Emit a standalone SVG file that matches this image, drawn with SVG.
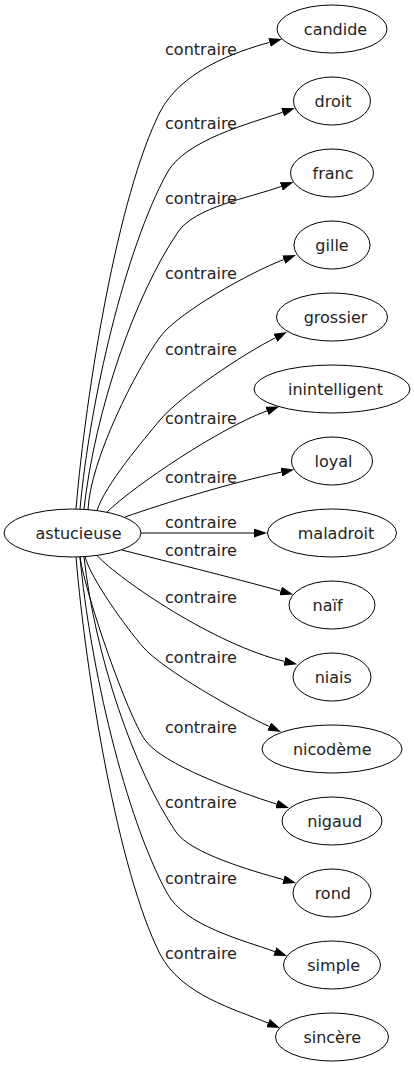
<svg xmlns="http://www.w3.org/2000/svg" width="414" height="1067" viewBox="0 0 414 1067">
<style>
.node ellipse{fill:none;stroke:#000;stroke-width:1}
.node text{font-family:"DejaVu Sans",sans-serif;font-size:16px;fill:#222;text-anchor:middle}
.edge path{fill:none;stroke:#000;stroke-width:1}
.lbl{font-family:"DejaVu Sans",sans-serif;font-size:16px;fill:#222;text-anchor:middle}
</style>
<defs>
<marker id="arr" viewBox="0 0 13 9" refX="0" refY="4.5" markerWidth="13" markerHeight="9" markerUnits="userSpaceOnUse" orient="auto">
<path d="M0,0 L13,4.5 L0,9 Z" fill="#000"/>
</marker>
</defs>
<rect width="414" height="1067" fill="#fff"/>
<g id="edges" class="edge">
<path marker-end="url(#arr)" d="M76,509 C86,390 118,195 160,112 C181,71 236,51.5 269.5,42.4"/>
<path marker-end="url(#arr)" d="M80,509 C90,400 125,250 167,173 C185,140 249.6,123.6 282.7,112.2"/>
<path marker-end="url(#arr)" d="M84,509 C95,410 135,295 178,232 C195,207 248.3,198.2 281.3,186.4"/>
<path marker-end="url(#arr)" d="M88,510 C90,460 136.4,369.4 160,337 C177.7,312.7 251,271.8 283.8,259.6"/>
<path marker-end="url(#arr)" d="M97,510.5 C105,485 144,439.3 160,420 C179,396.9 244.1,353.4 275.4,337.8"/>
<path marker-end="url(#arr)" d="M107,512 C135,485 220,428 267,410.9"/>
<path marker-end="url(#arr)" d="M125,517 C165,503 230,483 281.4,472.1"/>
<path marker-end="url(#arr)" d="M141,533 L254,533"/>
<path marker-end="url(#arr)" d="M122,550 C165,561 230,577 280.6,591"/>
<path marker-end="url(#arr)" d="M97,555.5 C120,580 215,645 284.5,661.3"/>
<path marker-end="url(#arr)" d="M85,556.6 C91,579 126.6,628.2 143,647 C162.7,669.6 237.5,711.8 269.2,726.5"/>
<path marker-end="url(#arr)" d="M80,557 C86,597 127.8,715.5 145,740 C162.3,764.5 238.5,792 276.6,804.1"/>
<path marker-end="url(#arr)" d="M84,557 C95,656 134,770 176,832 C190,852.75 249.7,870.4 283.5,879.6"/>
<path marker-end="url(#arr)" d="M80,557 C90,666 125,816 167,893 C185,926 241.9,939.7 274.8,951.6"/>
<path marker-end="url(#arr)" d="M76,557 C86,676 118,871 160,954 C181,995 235.7,1009.5 268,1023"/>
<text class="lbl" x="201" y="55">contraire</text>
<text class="lbl" x="201" y="129">contraire</text>
<text class="lbl" x="201" y="204">contraire</text>
<text class="lbl" x="201" y="279">contraire</text>
<text class="lbl" x="201" y="355">contraire</text>
<text class="lbl" x="201" y="424">contraire</text>
<text class="lbl" x="201" y="483">contraire</text>
<text class="lbl" x="201" y="528">contraire</text>
<text class="lbl" x="201" y="556">contraire</text>
<text class="lbl" x="201" y="603">contraire</text>
<text class="lbl" x="201" y="663">contraire</text>
<text class="lbl" x="201" y="733">contraire</text>
<text class="lbl" x="201" y="808">contraire</text>
<text class="lbl" x="201" y="884">contraire</text>
<text class="lbl" x="201" y="959">contraire</text>
</g>
<g id="astucieuse" class="node"><ellipse cx="72.5" cy="533" rx="68.5" ry="24"/><text x="78.5" y="539">astucieuse</text></g>
<g id="candide" class="node"><ellipse cx="332" cy="29" rx="55" ry="24"/><text x="335.5" y="35">candide</text></g>
<g id="droit" class="node"><ellipse cx="332" cy="101" rx="38.5" ry="24"/><text x="333" y="107">droit</text></g>
<g id="franc" class="node"><ellipse cx="332" cy="173" rx="41.5" ry="24"/><text x="333" y="179">franc</text></g>
<g id="gille" class="node"><ellipse cx="332" cy="245" rx="38" ry="24"/><text x="332" y="251">gille</text></g>
<g id="grossier" class="node"><ellipse cx="332" cy="317" rx="55.5" ry="24"/><text x="335.5" y="323">grossier</text></g>
<g id="inintelligent" class="node"><ellipse cx="332" cy="389" rx="78" ry="24"/><text x="335.5" y="395">inintelligent</text></g>
<g id="loyal" class="node"><ellipse cx="332" cy="461" rx="40.5" ry="24"/><text x="333.5" y="467">loyal</text></g>
<g id="maladroit" class="node"><ellipse cx="332" cy="533" rx="64.5" ry="24"/><text x="336" y="539">maladroit</text></g>
<g id="naif" class="node"><ellipse cx="332" cy="605" rx="43" ry="24"/><text x="327.5" y="611">naïf</text></g>
<g id="niais" class="node"><ellipse cx="332" cy="677" rx="39" ry="24"/><text x="333.3" y="683">niais</text></g>
<g id="nicodeme" class="node"><ellipse cx="332" cy="749" rx="70" ry="24"/><text x="332.2" y="755">nicodème</text></g>
<g id="nigaud" class="node"><ellipse cx="332" cy="821" rx="50" ry="24"/><text x="334.7" y="827">nigaud</text></g>
<g id="rond" class="node"><ellipse cx="332" cy="893" rx="39" ry="24"/><text x="332.8" y="899">rond</text></g>
<g id="simple" class="node"><ellipse cx="332" cy="965" rx="48.5" ry="24"/><text x="333.7" y="971">simple</text></g>
<g id="sincere" class="node"><ellipse cx="332" cy="1037" rx="56.5" ry="24"/><text x="332.2" y="1043">sincère</text></g>
</svg>
